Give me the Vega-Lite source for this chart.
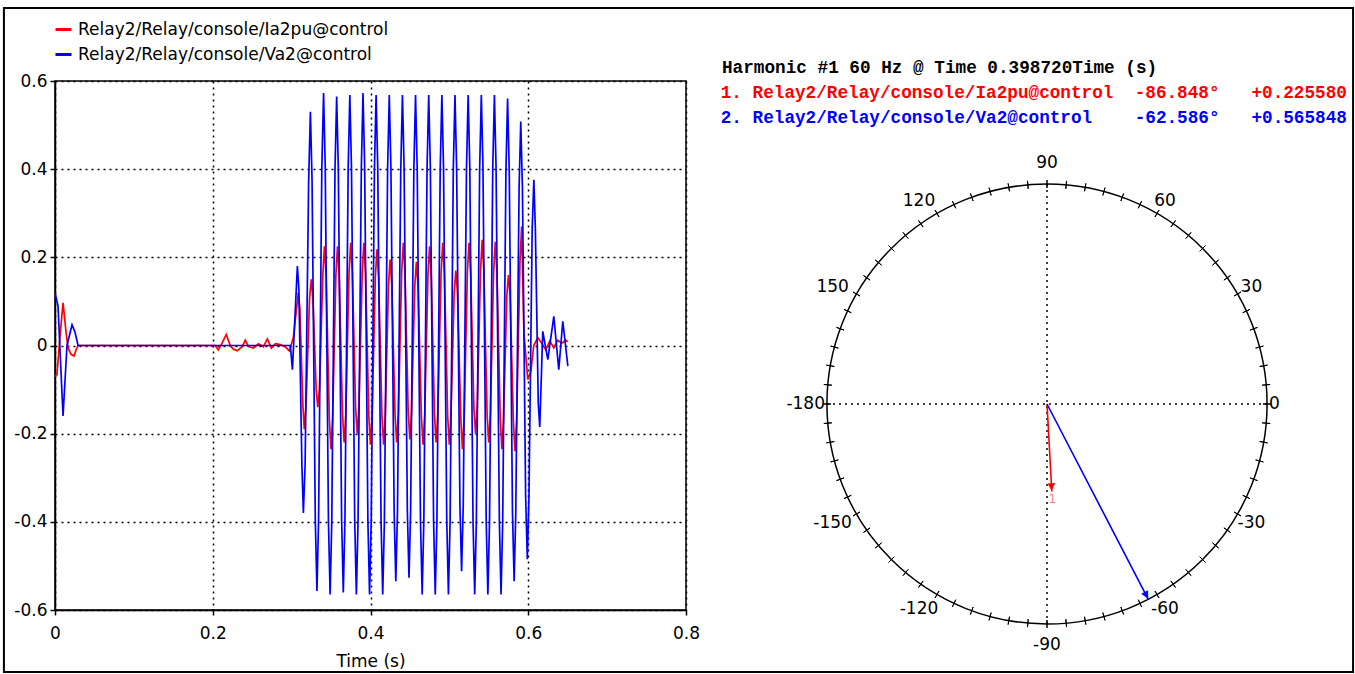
{
  "$schema": "https://vega.github.io/schema/vega-lite/v6.json",
  "background": "white",
  "padding": {"left": 2, "top": 6, "right": 0, "bottom": 0},
  "config": {"font": "DejaVu Sans", "view": {"stroke": null}},
  "bounds": "flush",
  "spacing": 74,
  "resolve": {"scale": {"color": "independent", "x": "independent", "y": "independent"}, "legend": {"color": "independent"}},
  "hconcat": [
    {
      "width": 631,
      "height": 529,
      "view": {"stroke": "black", "strokeWidth": 1.5},
      "layer": [
        {
          "data": {"values": [
            {"series": "Relay2/Relay/console/Ia2pu@control", "t": 0, "v": -0.07},
            {"series": "Relay2/Relay/console/Ia2pu@control", "t": 0.0025, "v": -0.066},
            {"series": "Relay2/Relay/console/Ia2pu@control", "t": 0.0063, "v": 0.02},
            {"series": "Relay2/Relay/console/Ia2pu@control", "t": 0.0102, "v": 0.097},
            {"series": "Relay2/Relay/console/Ia2pu@control", "t": 0.014, "v": 0.03},
            {"series": "Relay2/Relay/console/Ia2pu@control", "t": 0.0165, "v": -0.005},
            {"series": "Relay2/Relay/console/Ia2pu@control", "t": 0.0203, "v": -0.02},
            {"series": "Relay2/Relay/console/Ia2pu@control", "t": 0.0241, "v": -0.024},
            {"series": "Relay2/Relay/console/Ia2pu@control", "t": 0.0267, "v": -0.01},
            {"series": "Relay2/Relay/console/Ia2pu@control", "t": 0.0292, "v": 0},
            {"series": "Relay2/Relay/console/Ia2pu@control", "t": 0.2, "v": 0},
            {"series": "Relay2/Relay/console/Ia2pu@control", "t": 0.2032, "v": 0},
            {"series": "Relay2/Relay/console/Ia2pu@control", "t": 0.207, "v": -0.01},
            {"series": "Relay2/Relay/console/Ia2pu@control", "t": 0.212, "v": 0.006},
            {"series": "Relay2/Relay/console/Ia2pu@control", "t": 0.2171, "v": 0.025},
            {"series": "Relay2/Relay/console/Ia2pu@control", "t": 0.2222, "v": 0},
            {"series": "Relay2/Relay/console/Ia2pu@control", "t": 0.226, "v": -0.008},
            {"series": "Relay2/Relay/console/Ia2pu@control", "t": 0.2311, "v": -0.012},
            {"series": "Relay2/Relay/console/Ia2pu@control", "t": 0.2375, "v": -0.002},
            {"series": "Relay2/Relay/console/Ia2pu@control", "t": 0.2413, "v": 0.012},
            {"series": "Relay2/Relay/console/Ia2pu@control", "t": 0.2451, "v": -0.002},
            {"series": "Relay2/Relay/console/Ia2pu@control", "t": 0.2514, "v": -0.006},
            {"series": "Relay2/Relay/console/Ia2pu@control", "t": 0.2578, "v": 0.004},
            {"series": "Relay2/Relay/console/Ia2pu@control", "t": 0.2641, "v": -0.003},
            {"series": "Relay2/Relay/console/Ia2pu@control", "t": 0.2692, "v": 0.015},
            {"series": "Relay2/Relay/console/Ia2pu@control", "t": 0.2743, "v": -0.006},
            {"series": "Relay2/Relay/console/Ia2pu@control", "t": 0.2794, "v": 0.004},
            {"series": "Relay2/Relay/console/Ia2pu@control", "t": 0.2857, "v": 0.002},
            {"series": "Relay2/Relay/console/Ia2pu@control", "t": 0.2921, "v": -0.003},
            {"series": "Relay2/Relay/console/Ia2pu@control", "t": 0.2971, "v": -0.012},
            {"series": "Relay2/Relay/console/Ia2pu@control", "t": 0.3022, "v": 0.018},
            {"series": "Relay2/Relay/console/Ia2pu@control", "t": 0.3085, "v": 0.12},
            {"series": "Relay2/Relay/console/Ia2pu@control", "t": 0.3104, "v": 0.085},
            {"series": "Relay2/Relay/console/Ia2pu@control", "t": 0.3142, "v": -0.134},
            {"series": "Relay2/Relay/console/Ia2pu@control", "t": 0.3161, "v": -0.19},
            {"series": "Relay2/Relay/console/Ia2pu@control", "t": 0.3183, "v": -0.134},
            {"series": "Relay2/Relay/console/Ia2pu@control", "t": 0.3227, "v": 0.106},
            {"series": "Relay2/Relay/console/Ia2pu@control", "t": 0.3249, "v": 0.15},
            {"series": "Relay2/Relay/console/Ia2pu@control", "t": 0.327, "v": 0.106},
            {"series": "Relay2/Relay/console/Ia2pu@control", "t": 0.3311, "v": -0.099},
            {"series": "Relay2/Relay/console/Ia2pu@control", "t": 0.3332, "v": -0.14},
            {"series": "Relay2/Relay/console/Ia2pu@control", "t": 0.3353, "v": -0.099},
            {"series": "Relay2/Relay/console/Ia2pu@control", "t": 0.3395, "v": 0.159},
            {"series": "Relay2/Relay/console/Ia2pu@control", "t": 0.3416, "v": 0.225},
            {"series": "Relay2/Relay/console/Ia2pu@control", "t": 0.3437, "v": 0.159},
            {"series": "Relay2/Relay/console/Ia2pu@control", "t": 0.3478, "v": -0.166},
            {"series": "Relay2/Relay/console/Ia2pu@control", "t": 0.3499, "v": -0.235},
            {"series": "Relay2/Relay/console/Ia2pu@control", "t": 0.352, "v": -0.166},
            {"series": "Relay2/Relay/console/Ia2pu@control", "t": 0.3561, "v": 0.159},
            {"series": "Relay2/Relay/console/Ia2pu@control", "t": 0.3582, "v": 0.225},
            {"series": "Relay2/Relay/console/Ia2pu@control", "t": 0.3603, "v": 0.159},
            {"series": "Relay2/Relay/console/Ia2pu@control", "t": 0.3645, "v": -0.156},
            {"series": "Relay2/Relay/console/Ia2pu@control", "t": 0.3666, "v": -0.22},
            {"series": "Relay2/Relay/console/Ia2pu@control", "t": 0.3687, "v": -0.156},
            {"series": "Relay2/Relay/console/Ia2pu@control", "t": 0.3728, "v": 0.165},
            {"series": "Relay2/Relay/console/Ia2pu@control", "t": 0.3749, "v": 0.233},
            {"series": "Relay2/Relay/console/Ia2pu@control", "t": 0.377, "v": 0.165},
            {"series": "Relay2/Relay/console/Ia2pu@control", "t": 0.3811, "v": -0.141},
            {"series": "Relay2/Relay/console/Ia2pu@control", "t": 0.3832, "v": -0.2},
            {"series": "Relay2/Relay/console/Ia2pu@control", "t": 0.3853, "v": -0.141},
            {"series": "Relay2/Relay/console/Ia2pu@control", "t": 0.3895, "v": 0.165},
            {"series": "Relay2/Relay/console/Ia2pu@control", "t": 0.3916, "v": 0.233},
            {"series": "Relay2/Relay/console/Ia2pu@control", "t": 0.3937, "v": 0.165},
            {"series": "Relay2/Relay/console/Ia2pu@control", "t": 0.3978, "v": -0.159},
            {"series": "Relay2/Relay/console/Ia2pu@control", "t": 0.3999, "v": -0.225},
            {"series": "Relay2/Relay/console/Ia2pu@control", "t": 0.402, "v": -0.159},
            {"series": "Relay2/Relay/console/Ia2pu@control", "t": 0.4061, "v": 0.154},
            {"series": "Relay2/Relay/console/Ia2pu@control", "t": 0.4082, "v": 0.218},
            {"series": "Relay2/Relay/console/Ia2pu@control", "t": 0.4103, "v": 0.154},
            {"series": "Relay2/Relay/console/Ia2pu@control", "t": 0.4145, "v": -0.159},
            {"series": "Relay2/Relay/console/Ia2pu@control", "t": 0.4166, "v": -0.225},
            {"series": "Relay2/Relay/console/Ia2pu@control", "t": 0.4187, "v": -0.159},
            {"series": "Relay2/Relay/console/Ia2pu@control", "t": 0.4228, "v": 0.138},
            {"series": "Relay2/Relay/console/Ia2pu@control", "t": 0.4249, "v": 0.195},
            {"series": "Relay2/Relay/console/Ia2pu@control", "t": 0.427, "v": 0.138},
            {"series": "Relay2/Relay/console/Ia2pu@control", "t": 0.4311, "v": -0.156},
            {"series": "Relay2/Relay/console/Ia2pu@control", "t": 0.4332, "v": -0.22},
            {"series": "Relay2/Relay/console/Ia2pu@control", "t": 0.4353, "v": -0.156},
            {"series": "Relay2/Relay/console/Ia2pu@control", "t": 0.4395, "v": 0.165},
            {"series": "Relay2/Relay/console/Ia2pu@control", "t": 0.4416, "v": 0.233},
            {"series": "Relay2/Relay/console/Ia2pu@control", "t": 0.4437, "v": 0.165},
            {"series": "Relay2/Relay/console/Ia2pu@control", "t": 0.4478, "v": -0.151},
            {"series": "Relay2/Relay/console/Ia2pu@control", "t": 0.4499, "v": -0.213},
            {"series": "Relay2/Relay/console/Ia2pu@control", "t": 0.452, "v": -0.151},
            {"series": "Relay2/Relay/console/Ia2pu@control", "t": 0.4561, "v": 0.134},
            {"series": "Relay2/Relay/console/Ia2pu@control", "t": 0.4582, "v": 0.19},
            {"series": "Relay2/Relay/console/Ia2pu@control", "t": 0.4603, "v": 0.134},
            {"series": "Relay2/Relay/console/Ia2pu@control", "t": 0.4645, "v": -0.159},
            {"series": "Relay2/Relay/console/Ia2pu@control", "t": 0.4666, "v": -0.225},
            {"series": "Relay2/Relay/console/Ia2pu@control", "t": 0.4687, "v": -0.159},
            {"series": "Relay2/Relay/console/Ia2pu@control", "t": 0.4728, "v": 0.159},
            {"series": "Relay2/Relay/console/Ia2pu@control", "t": 0.4749, "v": 0.225},
            {"series": "Relay2/Relay/console/Ia2pu@control", "t": 0.477, "v": 0.159},
            {"series": "Relay2/Relay/console/Ia2pu@control", "t": 0.4811, "v": -0.156},
            {"series": "Relay2/Relay/console/Ia2pu@control", "t": 0.4832, "v": -0.22},
            {"series": "Relay2/Relay/console/Ia2pu@control", "t": 0.4853, "v": -0.156},
            {"series": "Relay2/Relay/console/Ia2pu@control", "t": 0.4895, "v": 0.165},
            {"series": "Relay2/Relay/console/Ia2pu@control", "t": 0.4916, "v": 0.233},
            {"series": "Relay2/Relay/console/Ia2pu@control", "t": 0.4937, "v": 0.165},
            {"series": "Relay2/Relay/console/Ia2pu@control", "t": 0.4978, "v": -0.159},
            {"series": "Relay2/Relay/console/Ia2pu@control", "t": 0.4999, "v": -0.225},
            {"series": "Relay2/Relay/console/Ia2pu@control", "t": 0.502, "v": -0.159},
            {"series": "Relay2/Relay/console/Ia2pu@control", "t": 0.5061, "v": 0.12},
            {"series": "Relay2/Relay/console/Ia2pu@control", "t": 0.5082, "v": 0.17},
            {"series": "Relay2/Relay/console/Ia2pu@control", "t": 0.5103, "v": 0.12},
            {"series": "Relay2/Relay/console/Ia2pu@control", "t": 0.5145, "v": -0.166},
            {"series": "Relay2/Relay/console/Ia2pu@control", "t": 0.5166, "v": -0.235},
            {"series": "Relay2/Relay/console/Ia2pu@control", "t": 0.5187, "v": -0.166},
            {"series": "Relay2/Relay/console/Ia2pu@control", "t": 0.5228, "v": 0.165},
            {"series": "Relay2/Relay/console/Ia2pu@control", "t": 0.5249, "v": 0.233},
            {"series": "Relay2/Relay/console/Ia2pu@control", "t": 0.527, "v": 0.165},
            {"series": "Relay2/Relay/console/Ia2pu@control", "t": 0.5311, "v": -0.141},
            {"series": "Relay2/Relay/console/Ia2pu@control", "t": 0.5332, "v": -0.2},
            {"series": "Relay2/Relay/console/Ia2pu@control", "t": 0.5353, "v": -0.141},
            {"series": "Relay2/Relay/console/Ia2pu@control", "t": 0.5395, "v": 0.17},
            {"series": "Relay2/Relay/console/Ia2pu@control", "t": 0.5416, "v": 0.24},
            {"series": "Relay2/Relay/console/Ia2pu@control", "t": 0.5437, "v": 0.17},
            {"series": "Relay2/Relay/console/Ia2pu@control", "t": 0.5478, "v": -0.156},
            {"series": "Relay2/Relay/console/Ia2pu@control", "t": 0.5499, "v": -0.22},
            {"series": "Relay2/Relay/console/Ia2pu@control", "t": 0.552, "v": -0.156},
            {"series": "Relay2/Relay/console/Ia2pu@control", "t": 0.5561, "v": 0.166},
            {"series": "Relay2/Relay/console/Ia2pu@control", "t": 0.5582, "v": 0.235},
            {"series": "Relay2/Relay/console/Ia2pu@control", "t": 0.5603, "v": 0.166},
            {"series": "Relay2/Relay/console/Ia2pu@control", "t": 0.5645, "v": -0.166},
            {"series": "Relay2/Relay/console/Ia2pu@control", "t": 0.5666, "v": -0.235},
            {"series": "Relay2/Relay/console/Ia2pu@control", "t": 0.5687, "v": -0.166},
            {"series": "Relay2/Relay/console/Ia2pu@control", "t": 0.5728, "v": 0.113},
            {"series": "Relay2/Relay/console/Ia2pu@control", "t": 0.5749, "v": 0.16},
            {"series": "Relay2/Relay/console/Ia2pu@control", "t": 0.577, "v": 0.113},
            {"series": "Relay2/Relay/console/Ia2pu@control", "t": 0.5811, "v": -0.17},
            {"series": "Relay2/Relay/console/Ia2pu@control", "t": 0.5832, "v": -0.24},
            {"series": "Relay2/Relay/console/Ia2pu@control", "t": 0.5853, "v": -0.17},
            {"series": "Relay2/Relay/console/Ia2pu@control", "t": 0.5895, "v": 0.19},
            {"series": "Relay2/Relay/console/Ia2pu@control", "t": 0.5916, "v": 0.27},
            {"series": "Relay2/Relay/console/Ia2pu@control", "t": 0.5945, "v": 0.03},
            {"series": "Relay2/Relay/console/Ia2pu@control", "t": 0.5994, "v": -0.077},
            {"series": "Relay2/Relay/console/Ia2pu@control", "t": 0.6032, "v": -0.06},
            {"series": "Relay2/Relay/console/Ia2pu@control", "t": 0.607, "v": 0},
            {"series": "Relay2/Relay/console/Ia2pu@control", "t": 0.6121, "v": 0.018},
            {"series": "Relay2/Relay/console/Ia2pu@control", "t": 0.6171, "v": 0.005},
            {"series": "Relay2/Relay/console/Ia2pu@control", "t": 0.6222, "v": -0.01},
            {"series": "Relay2/Relay/console/Ia2pu@control", "t": 0.6273, "v": 0.01},
            {"series": "Relay2/Relay/console/Ia2pu@control", "t": 0.6324, "v": -0.005},
            {"series": "Relay2/Relay/console/Ia2pu@control", "t": 0.6375, "v": 0.012},
            {"series": "Relay2/Relay/console/Ia2pu@control", "t": 0.6425, "v": 0.005},
            {"series": "Relay2/Relay/console/Ia2pu@control", "t": 0.6476, "v": 0.012},
            {"series": "Relay2/Relay/console/Ia2pu@control", "t": 0.6502, "v": 0.008},
            {"series": "Relay2/Relay/console/Va2@control", "t": 0, "v": 0.12},
            {"series": "Relay2/Relay/console/Va2@control", "t": 0.0038, "v": 0.09},
            {"series": "Relay2/Relay/console/Va2@control", "t": 0.0102, "v": -0.16},
            {"series": "Relay2/Relay/console/Va2@control", "t": 0.0152, "v": 0},
            {"series": "Relay2/Relay/console/Va2@control", "t": 0.0216, "v": 0.047},
            {"series": "Relay2/Relay/console/Va2@control", "t": 0.0254, "v": 0.03},
            {"series": "Relay2/Relay/console/Va2@control", "t": 0.0292, "v": 0},
            {"series": "Relay2/Relay/console/Va2@control", "t": 0.2984, "v": 0},
            {"series": "Relay2/Relay/console/Va2@control", "t": 0.301, "v": -0.055},
            {"series": "Relay2/Relay/console/Va2@control", "t": 0.3073, "v": 0.18},
            {"series": "Relay2/Relay/console/Va2@control", "t": 0.3092, "v": 0.127},
            {"series": "Relay2/Relay/console/Va2@control", "t": 0.313, "v": -0.27},
            {"series": "Relay2/Relay/console/Va2@control", "t": 0.3149, "v": -0.38},
            {"series": "Relay2/Relay/console/Va2@control", "t": 0.3171, "v": -0.27},
            {"series": "Relay2/Relay/console/Va2@control", "t": 0.3216, "v": 0.375},
            {"series": "Relay2/Relay/console/Va2@control", "t": 0.3238, "v": 0.53},
            {"series": "Relay2/Relay/console/Va2@control", "t": 0.3259, "v": 0.375},
            {"series": "Relay2/Relay/console/Va2@control", "t": 0.33, "v": -0.394},
            {"series": "Relay2/Relay/console/Va2@control", "t": 0.3321, "v": -0.557},
            {"series": "Relay2/Relay/console/Va2@control", "t": 0.3342, "v": -0.394},
            {"series": "Relay2/Relay/console/Va2@control", "t": 0.3383, "v": 0.405},
            {"series": "Relay2/Relay/console/Va2@control", "t": 0.3405, "v": 0.573},
            {"series": "Relay2/Relay/console/Va2@control", "t": 0.3426, "v": 0.405},
            {"series": "Relay2/Relay/console/Va2@control", "t": 0.3467, "v": -0.4},
            {"series": "Relay2/Relay/console/Va2@control", "t": 0.3488, "v": -0.565},
            {"series": "Relay2/Relay/console/Va2@control", "t": 0.3509, "v": -0.4},
            {"series": "Relay2/Relay/console/Va2@control", "t": 0.355, "v": 0.4},
            {"series": "Relay2/Relay/console/Va2@control", "t": 0.3571, "v": 0.565},
            {"series": "Relay2/Relay/console/Va2@control", "t": 0.3592, "v": 0.4},
            {"series": "Relay2/Relay/console/Va2@control", "t": 0.3634, "v": -0.396},
            {"series": "Relay2/Relay/console/Va2@control", "t": 0.3655, "v": -0.56},
            {"series": "Relay2/Relay/console/Va2@control", "t": 0.3676, "v": -0.396},
            {"series": "Relay2/Relay/console/Va2@control", "t": 0.3717, "v": 0.402},
            {"series": "Relay2/Relay/console/Va2@control", "t": 0.3738, "v": 0.568},
            {"series": "Relay2/Relay/console/Va2@control", "t": 0.3759, "v": 0.402},
            {"series": "Relay2/Relay/console/Va2@control", "t": 0.38, "v": -0.4},
            {"series": "Relay2/Relay/console/Va2@control", "t": 0.3821, "v": -0.565},
            {"series": "Relay2/Relay/console/Va2@control", "t": 0.3842, "v": -0.4},
            {"series": "Relay2/Relay/console/Va2@control", "t": 0.3884, "v": 0.405},
            {"series": "Relay2/Relay/console/Va2@control", "t": 0.3905, "v": 0.573},
            {"series": "Relay2/Relay/console/Va2@control", "t": 0.3926, "v": 0.405},
            {"series": "Relay2/Relay/console/Va2@control", "t": 0.3967, "v": -0.4},
            {"series": "Relay2/Relay/console/Va2@control", "t": 0.3988, "v": -0.565},
            {"series": "Relay2/Relay/console/Va2@control", "t": 0.4009, "v": -0.4},
            {"series": "Relay2/Relay/console/Va2@control", "t": 0.405, "v": 0.402},
            {"series": "Relay2/Relay/console/Va2@control", "t": 0.4071, "v": 0.568},
            {"series": "Relay2/Relay/console/Va2@control", "t": 0.4092, "v": 0.402},
            {"series": "Relay2/Relay/console/Va2@control", "t": 0.4134, "v": -0.4},
            {"series": "Relay2/Relay/console/Va2@control", "t": 0.4155, "v": -0.565},
            {"series": "Relay2/Relay/console/Va2@control", "t": 0.4176, "v": -0.4},
            {"series": "Relay2/Relay/console/Va2@control", "t": 0.4217, "v": 0.402},
            {"series": "Relay2/Relay/console/Va2@control", "t": 0.4238, "v": 0.568},
            {"series": "Relay2/Relay/console/Va2@control", "t": 0.4259, "v": 0.402},
            {"series": "Relay2/Relay/console/Va2@control", "t": 0.43, "v": -0.378},
            {"series": "Relay2/Relay/console/Va2@control", "t": 0.4321, "v": -0.535},
            {"series": "Relay2/Relay/console/Va2@control", "t": 0.4342, "v": -0.378},
            {"series": "Relay2/Relay/console/Va2@control", "t": 0.4384, "v": 0.402},
            {"series": "Relay2/Relay/console/Va2@control", "t": 0.4405, "v": 0.568},
            {"series": "Relay2/Relay/console/Va2@control", "t": 0.4426, "v": 0.402},
            {"series": "Relay2/Relay/console/Va2@control", "t": 0.4467, "v": -0.373},
            {"series": "Relay2/Relay/console/Va2@control", "t": 0.4488, "v": -0.527},
            {"series": "Relay2/Relay/console/Va2@control", "t": 0.4509, "v": -0.373},
            {"series": "Relay2/Relay/console/Va2@control", "t": 0.455, "v": 0.402},
            {"series": "Relay2/Relay/console/Va2@control", "t": 0.4571, "v": 0.568},
            {"series": "Relay2/Relay/console/Va2@control", "t": 0.4592, "v": 0.402},
            {"series": "Relay2/Relay/console/Va2@control", "t": 0.4634, "v": -0.4},
            {"series": "Relay2/Relay/console/Va2@control", "t": 0.4655, "v": -0.565},
            {"series": "Relay2/Relay/console/Va2@control", "t": 0.4676, "v": -0.4},
            {"series": "Relay2/Relay/console/Va2@control", "t": 0.4717, "v": 0.402},
            {"series": "Relay2/Relay/console/Va2@control", "t": 0.4738, "v": 0.568},
            {"series": "Relay2/Relay/console/Va2@control", "t": 0.4759, "v": 0.402},
            {"series": "Relay2/Relay/console/Va2@control", "t": 0.48, "v": -0.4},
            {"series": "Relay2/Relay/console/Va2@control", "t": 0.4821, "v": -0.565},
            {"series": "Relay2/Relay/console/Va2@control", "t": 0.4842, "v": -0.4},
            {"series": "Relay2/Relay/console/Va2@control", "t": 0.4884, "v": 0.402},
            {"series": "Relay2/Relay/console/Va2@control", "t": 0.4905, "v": 0.568},
            {"series": "Relay2/Relay/console/Va2@control", "t": 0.4926, "v": 0.402},
            {"series": "Relay2/Relay/console/Va2@control", "t": 0.4967, "v": -0.4},
            {"series": "Relay2/Relay/console/Va2@control", "t": 0.4988, "v": -0.565},
            {"series": "Relay2/Relay/console/Va2@control", "t": 0.5009, "v": -0.4},
            {"series": "Relay2/Relay/console/Va2@control", "t": 0.505, "v": 0.402},
            {"series": "Relay2/Relay/console/Va2@control", "t": 0.5071, "v": 0.568},
            {"series": "Relay2/Relay/console/Va2@control", "t": 0.5092, "v": 0.402},
            {"series": "Relay2/Relay/console/Va2@control", "t": 0.5134, "v": -0.362},
            {"series": "Relay2/Relay/console/Va2@control", "t": 0.5155, "v": -0.512},
            {"series": "Relay2/Relay/console/Va2@control", "t": 0.5176, "v": -0.362},
            {"series": "Relay2/Relay/console/Va2@control", "t": 0.5217, "v": 0.402},
            {"series": "Relay2/Relay/console/Va2@control", "t": 0.5238, "v": 0.568},
            {"series": "Relay2/Relay/console/Va2@control", "t": 0.5259, "v": 0.402},
            {"series": "Relay2/Relay/console/Va2@control", "t": 0.53, "v": -0.4},
            {"series": "Relay2/Relay/console/Va2@control", "t": 0.5321, "v": -0.565},
            {"series": "Relay2/Relay/console/Va2@control", "t": 0.5342, "v": -0.4},
            {"series": "Relay2/Relay/console/Va2@control", "t": 0.5384, "v": 0.402},
            {"series": "Relay2/Relay/console/Va2@control", "t": 0.5405, "v": 0.568},
            {"series": "Relay2/Relay/console/Va2@control", "t": 0.5426, "v": 0.402},
            {"series": "Relay2/Relay/console/Va2@control", "t": 0.5467, "v": -0.4},
            {"series": "Relay2/Relay/console/Va2@control", "t": 0.5488, "v": -0.565},
            {"series": "Relay2/Relay/console/Va2@control", "t": 0.5509, "v": -0.4},
            {"series": "Relay2/Relay/console/Va2@control", "t": 0.555, "v": 0.402},
            {"series": "Relay2/Relay/console/Va2@control", "t": 0.5571, "v": 0.568},
            {"series": "Relay2/Relay/console/Va2@control", "t": 0.5592, "v": 0.402},
            {"series": "Relay2/Relay/console/Va2@control", "t": 0.5634, "v": -0.4},
            {"series": "Relay2/Relay/console/Va2@control", "t": 0.5655, "v": -0.565},
            {"series": "Relay2/Relay/console/Va2@control", "t": 0.5676, "v": -0.4},
            {"series": "Relay2/Relay/console/Va2@control", "t": 0.5717, "v": 0.396},
            {"series": "Relay2/Relay/console/Va2@control", "t": 0.5738, "v": 0.56},
            {"series": "Relay2/Relay/console/Va2@control", "t": 0.5759, "v": 0.396},
            {"series": "Relay2/Relay/console/Va2@control", "t": 0.58, "v": -0.378},
            {"series": "Relay2/Relay/console/Va2@control", "t": 0.5821, "v": -0.535},
            {"series": "Relay2/Relay/console/Va2@control", "t": 0.5842, "v": -0.378},
            {"series": "Relay2/Relay/console/Va2@control", "t": 0.5884, "v": 0.359},
            {"series": "Relay2/Relay/console/Va2@control", "t": 0.5905, "v": 0.508},
            {"series": "Relay2/Relay/console/Va2@control", "t": 0.5926, "v": 0.359},
            {"series": "Relay2/Relay/console/Va2@control", "t": 0.5967, "v": -0.343},
            {"series": "Relay2/Relay/console/Va2@control", "t": 0.5988, "v": -0.485},
            {"series": "Relay2/Relay/console/Va2@control", "t": 0.6009, "v": -0.343},
            {"series": "Relay2/Relay/console/Va2@control", "t": 0.605, "v": 0.266},
            {"series": "Relay2/Relay/console/Va2@control", "t": 0.6071, "v": 0.376},
            {"series": "Relay2/Relay/console/Va2@control", "t": 0.609, "v": 0.266},
            {"series": "Relay2/Relay/console/Va2@control", "t": 0.6127, "v": -0.131},
            {"series": "Relay2/Relay/console/Va2@control", "t": 0.6146, "v": -0.185},
            {"series": "Relay2/Relay/console/Va2@control", "t": 0.6184, "v": 0.032},
            {"series": "Relay2/Relay/console/Va2@control", "t": 0.6248, "v": -0.032},
            {"series": "Relay2/Relay/console/Va2@control", "t": 0.6324, "v": 0.066},
            {"series": "Relay2/Relay/console/Va2@control", "t": 0.6387, "v": -0.055},
            {"series": "Relay2/Relay/console/Va2@control", "t": 0.6438, "v": 0.055},
            {"series": "Relay2/Relay/console/Va2@control", "t": 0.6502, "v": -0.047}
          ]},
          "mark": {"type": "line", "strokeWidth": 1.7, "clip": true},
          "encoding": {
            "x": {"field": "t", "type": "quantitative",
              "scale": {"domain": [0, 0.8], "nice": false, "zero": false},
              "axis": {"values": [0, 0.2, 0.4, 0.6, 0.8], "format": ".1~f", "title": "Time (s)",
                "grid": true, "gridColor": "black", "gridDash": [2, 4], "gridWidth": 1.5, "gridOpacity": 1,
                "domainColor": "black", "domainWidth": 1.5, "tickColor": "black", "tickSize": 5, "tickWidth": 1.5,
                "labelColor": "black", "labelFontSize": 17, "labelPadding": 10, "labelFlush": false,
                "titleFontSize": 17, "titleFontWeight": "normal", "titleColor": "black", "titlePadding": 12}},
            "y": {"field": "v", "type": "quantitative",
              "scale": {"domain": [-0.6, 0.6], "nice": false, "zero": false},
              "axis": {"values": [-0.6, -0.4, -0.2, 0, 0.2, 0.4, 0.6], "title": null,
                "labelExpr": "replace(format(datum.value, '.1~f'), '\u2212', '-')",
                "grid": true, "gridColor": "black", "gridDash": [2, 4], "gridWidth": 1.5, "gridOpacity": 1,
                "domainColor": "black", "domainWidth": 1.5, "tickColor": "black", "tickSize": 5, "tickWidth": 1.5,
                "labelColor": "black", "labelFontSize": 17, "labelPadding": 3, "labelFlush": false}},
            "color": {"field": "series", "type": "nominal",
              "scale": {"domain": ["Relay2/Relay/console/Ia2pu@control", "Relay2/Relay/console/Va2@control"], "range": ["#ff0000", "#0000ff"]},
              "legend": {"orient": "none", "legendX": -1, "legendY": -61, "title": null, "direction": "vertical",
                "symbolType": "stroke", "symbolStrokeWidth": 3, "symbolSize": 256,
                "labelFontSize": 17, "labelColor": "black", "labelLimit": 600, "labelOffset": 5,
                "rowPadding": 7, "padding": 0}}
          }
        },
        {
          "data": {"values": [{}]},
          "mark": {"type": "rect", "filled": false, "stroke": "black", "strokeWidth": 2, "clip": false},
          "encoding": {
            "x": {"datum": -0.064762, "type": "quantitative", "scale": {"domain": [0, 0.8], "nice": false, "zero": false}},
            "x2": {"datum": 1.645714},
            "y": {"datum": 0.765595, "type": "quantitative", "scale": {"domain": [-0.6, 0.6], "nice": false, "zero": false}},
            "y2": {"datum": -0.74064}
          }
        }
      ]
    },
    {
      "width": 574,
      "height": 529,
      "view": {"stroke": null},
      "encoding": {
        "x": {"datum": 0, "type": "quantitative", "scale": {"domain": [-1.304545, 1.304545], "nice": false, "zero": false}, "axis": null},
        "y": {"datum": 0, "type": "quantitative", "scale": {"domain": [-0.936364, 1.468182], "nice": false, "zero": false}, "axis": null}
      },
      "layer": [
        {
          "data": {"values": [{}]},
          "mark": {"type": "rule", "color": "black", "strokeDash": [2, 4], "strokeWidth": 1.5},
          "encoding": {"x": {"datum": -1}, "x2": {"datum": 1}, "y": {"datum": 0}}
        },
        {
          "data": {"values": [{}]},
          "mark": {"type": "rule", "color": "black", "strokeDash": [2, 4], "strokeWidth": 1.5},
          "encoding": {"x": {"datum": 0}, "y": {"datum": -1}, "y2": {"datum": 1}}
        },
        {
          "data": {"values": [{}]},
          "mark": {"type": "arc", "outerRadius": 220, "innerRadius": 0, "filled": false, "stroke": "black", "strokeWidth": 1.5},
          "encoding": {
            "theta": {"datum": 90, "type": "quantitative", "scale": {"domain": [90, -270], "range": [0, 6.283185307179586], "nice": false, "zero": false}},
            "theta2": {"datum": -270}
          }
        },
        {
          "data": {"values": [
            {"ang": -180}, {"ang": -175}, {"ang": -170}, {"ang": -165}, {"ang": -160}, {"ang": -155}, {"ang": -150}, {"ang": -145},
            {"ang": -140}, {"ang": -135}, {"ang": -130}, {"ang": -125}, {"ang": -120}, {"ang": -115}, {"ang": -110}, {"ang": -105},
            {"ang": -100}, {"ang": -95}, {"ang": -90}, {"ang": -85}, {"ang": -80}, {"ang": -75}, {"ang": -70}, {"ang": -65},
            {"ang": -60}, {"ang": -55}, {"ang": -50}, {"ang": -45}, {"ang": -40}, {"ang": -35}, {"ang": -30}, {"ang": -25},
            {"ang": -20}, {"ang": -15}, {"ang": -10}, {"ang": -5}, {"ang": 0}, {"ang": 5}, {"ang": 10}, {"ang": 15},
            {"ang": 20}, {"ang": 25}, {"ang": 30}, {"ang": 35}, {"ang": 40}, {"ang": 45}, {"ang": 50}, {"ang": 55},
            {"ang": 60}, {"ang": 65}, {"ang": 70}, {"ang": 75}, {"ang": 80}, {"ang": 85}, {"ang": 90}, {"ang": 95},
            {"ang": 100}, {"ang": 105}, {"ang": 110}, {"ang": 115}, {"ang": 120}, {"ang": 125}, {"ang": 130}, {"ang": 135},
            {"ang": 140}, {"ang": 145}, {"ang": 150}, {"ang": 155}, {"ang": 160}, {"ang": 165}, {"ang": 170}, {"ang": 175}
          ]},
          "mark": {"type": "arc", "outerRadius": 224, "innerRadius": 216, "filled": false, "stroke": "black", "strokeWidth": 1},
          "encoding": {
            "theta": {"field": "ang", "type": "quantitative", "stack": null, "scale": {"domain": [90, -270], "range": [0, 6.283185307179586], "nice": false, "zero": false}},
            "theta2": {"field": "ang"}
          }
        },
        {
          "data": {"values": [{"deg": 30}, {"deg": 60}, {"deg": -30}, {"deg": -60}]},
          "mark": {"type": "text", "radius": 236, "align": "center", "baseline": "middle", "fontSize": 17, "color": "black", "dy": 1},
          "encoding": {
            "theta": {"field": "deg", "type": "quantitative", "stack": null, "scale": {"domain": [90, -270], "range": [0, 6.283185307179586], "nice": false, "zero": false}},
            "text": {"field": "deg", "type": "nominal"}
          }
        },
        {
          "data": {"values": [{"deg": 120}, {"deg": 150}, {"deg": -150}, {"deg": -120}]},
          "mark": {"type": "text", "radius": 236, "align": "center", "baseline": "middle", "fontSize": 17, "color": "black", "dx": -10, "dy": 1},
          "encoding": {
            "theta": {"field": "deg", "type": "quantitative", "stack": null, "scale": {"domain": [90, -270], "range": [0, 6.283185307179586], "nice": false, "zero": false}},
            "text": {"field": "deg", "type": "nominal"}
          }
        },
        {
          "data": {"values": [{"deg": 0}]},
          "mark": {"type": "text", "radius": 222, "align": "left", "baseline": "middle", "fontSize": 17, "color": "black"},
          "encoding": {
            "theta": {"field": "deg", "type": "quantitative", "stack": null, "scale": {"domain": [90, -270], "range": [0, 6.283185307179586], "nice": false, "zero": false}},
            "text": {"field": "deg", "type": "nominal"}
          }
        },
        {
          "data": {"values": [{"deg": -180}]},
          "mark": {"type": "text", "radius": 222, "align": "right", "baseline": "middle", "fontSize": 17, "color": "black"},
          "encoding": {
            "theta": {"field": "deg", "type": "quantitative", "stack": null, "scale": {"domain": [90, -270], "range": [0, 6.283185307179586], "nice": false, "zero": false}},
            "text": {"field": "deg", "type": "nominal"}
          }
        },
        {
          "data": {"values": [{"deg": 90}, {"deg": -90}]},
          "mark": {"type": "text", "radius": 241, "align": "center", "baseline": "middle", "fontSize": 17, "color": "black"},
          "encoding": {
            "theta": {"field": "deg", "type": "quantitative", "stack": null, "scale": {"domain": [90, -270], "range": [0, 6.283185307179586], "nice": false, "zero": false}},
            "text": {"field": "deg", "type": "nominal"}
          }
        },
        {
          "data": {"name": "phasors", "values": [
            {"entry": "1. Relay2/Relay/console/Ia2pu@control\u00a0\u00a0-86.848°\u00a0\u00a0\u00a0+0.225580", "num": "1", "angle": -86.848, "mag": 0.22558},
            {"entry": "2. Relay2/Relay/console/Va2@control\u00a0\u00a0\u00a0\u00a0-62.586°\u00a0\u00a0\u00a0+0.565848", "num": "2", "angle": -62.586, "mag": 0.565848}
          ]},
          "layer": [
            {
              "mark": {"type": "arc", "innerRadius": 0, "filled": false, "strokeWidth": 1.6},
              "encoding": {
                "theta": {"field": "angle", "type": "quantitative", "stack": null, "scale": {"domain": [90, -270], "range": [0, 6.283185307179586], "nice": false, "zero": false}},
                "theta2": {"field": "angle"},
                "radius": {"field": "mag", "type": "quantitative", "scale": {"type": "linear", "domain": [0, 0.565848], "range": [0, 220], "zero": true, "nice": false}},
                "color": {"field": "entry", "type": "nominal",
                  "scale": {"domain": ["1. Relay2/Relay/console/Ia2pu@control\u00a0\u00a0-86.848°\u00a0\u00a0\u00a0+0.225580", "2. Relay2/Relay/console/Va2@control\u00a0\u00a0\u00a0\u00a0-62.586°\u00a0\u00a0\u00a0+0.565848"], "range": ["#ff0000", "#0000ff"]},
                  "legend": {"orient": "none", "legendX": -38, "legendY": -22,
                    "title": "Harmonic #1 60 Hz @ Time 0.398720Time (s)",
                    "titleFont": "Liberation Mono", "titleFontSize": 17.7, "titleFontWeight": "bold", "titleColor": "black", "titleLimit": 900, "titlePadding": 7,
                    "labelFont": "Liberation Mono", "labelFontSize": 17.7, "labelFontWeight": "bold", "labelLimit": 900,
                    "symbolSize": 0, "symbolOpacity": 0, "symbolStrokeWidth": 0, "labelOffset": -19, "rowPadding": 6, "padding": 0,
                    "encode": {"labels": {"update": {"fill": {"signal": "datum.index === 0 ? '#ff0000' : '#0000ff'"}}}}}
                }
              }
            },
            {
              "mark": {"type": "text", "text": "▲", "fontSize": 10, "align": "center", "baseline": "middle", "radiusOffset": -4},
              "encoding": {
                "theta": {"field": "angle", "type": "quantitative", "stack": null, "scale": {"domain": [90, -270], "range": [0, 6.283185307179586], "nice": false, "zero": false}},
                "radius": {"field": "mag", "type": "quantitative", "scale": {"type": "linear", "domain": [0, 0.565848], "range": [0, 220], "zero": true, "nice": false}},
                "angle": {"field": "angle", "type": "quantitative", "scale": {"domain": [90, -270], "range": [0, 360], "nice": false, "zero": false}},
                "color": {"field": "entry", "type": "nominal", "legend": null}
              }
            },
            {
              "transform": [{"filter": "datum.num == '1'"}],
              "mark": {"type": "text", "fontSize": 12, "align": "center", "baseline": "middle", "radiusOffset": 7, "color": "#ff8080"},
              "encoding": {
                "theta": {"field": "angle", "type": "quantitative", "stack": null, "scale": {"domain": [90, -270], "range": [0, 6.283185307179586], "nice": false, "zero": false}},
                "radius": {"field": "mag", "type": "quantitative", "scale": {"type": "linear", "domain": [0, 0.565848], "range": [0, 220], "zero": true, "nice": false}},
                "text": {"field": "num", "type": "nominal"}
              }
            }
          ]
        }
      ]
    }
  ]
}
